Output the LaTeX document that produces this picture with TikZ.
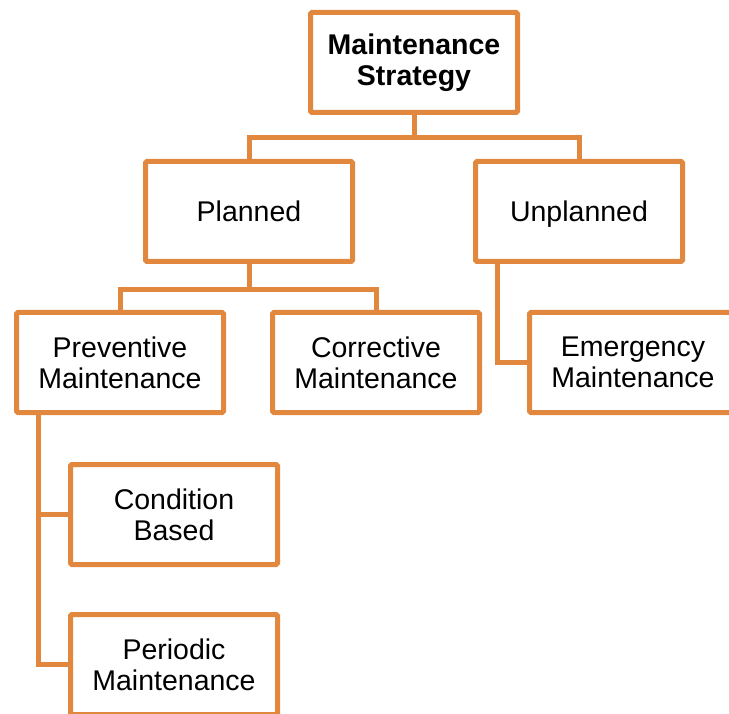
\documentclass[tikz,border=0pt]{standalone}
\usepackage{fontspec}
\setmainfont{Liberation Sans}
\usetikzlibrary{positioning,calc}
\definecolor{boxorange}{RGB}{225,136,62}

\tikzset{
box/.style={draw=boxorange, line width=5pt, fill=white, rounded corners=1.5pt,
  minimum width=207pt, minimum height=100pt, align=center,
  font=\fontsize{28.5}{31}\selectfont},
link/.style={draw=boxorange, line width=5pt},
}

\begin{document}
\begin{tikzpicture}[x=1pt,y=-1pt]
\useasboundingbox (0,0) rectangle (729,714);
\clip (0,0) rectangle (729,714);
\node[box, font=\fontsize{28.5}{31}\selectfont\bfseries] (root) at (414,62.5) {Maintenance\\Strategy};
\node[box, below=44pt of root, xshift=-165pt] (planned) {Planned};
\node[box, right=118pt of planned, text depth=0pt] (unplanned) {Unplanned};
\node[box, below=46pt of planned, xshift=-129pt] (prev) {Preventive\\Maintenance};
\node[box, right=44pt of prev] (corr) {Corrective\\Maintenance};
\node[box, right=45pt of corr] (emerg) {Emergency\\Maintenance};
\node[box, below=47pt of prev, xshift=54pt] (cond) {Condition\\Based};
\node[box, below=45pt of cond] (period) {Periodic\\Maintenance};
% tree lines
\coordinate (b1) at ($(root.south)+(0,23)$);
\coordinate (b2) at ($(planned.south)+(0,26)$);
\draw[link] (root.south) -- (b1) -| (planned.north);
\draw[link] (b1) -| (unplanned.north);
\draw[link] (planned.south) -- (b2) -| (prev.north);
\draw[link] (b2) -| (corr.north);
\draw[link] ([xshift=-82pt]unplanned.south) |- (emerg.west);
\draw[link] ([xshift=-82pt]prev.south) |- (cond.west);
\draw[link] ([xshift=-82pt]prev.south) |- (period.west);
\end{tikzpicture}
\end{document}
